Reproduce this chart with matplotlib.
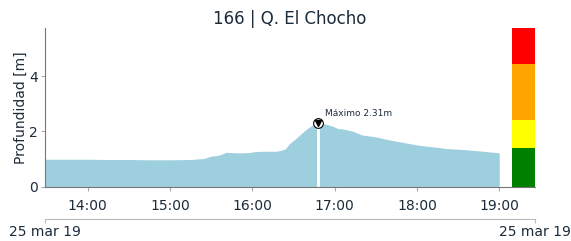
import numpy as np
import pandas as pd
import matplotlib
matplotlib.use('Agg')
import matplotlib.pyplot as plt
import matplotlib.dates as mdates

# level readings (time, depth in m)
times = ['13:29', '13:45', '14:00', '14:15', '14:30', '14:45', '15:00', '15:15',
         '15:25', '15:30', '15:36', '15:41', '15:50', '15:58', '16:02', '16:10',
         '16:17', '16:20', '16:24', '16:27', '16:32', '16:36', '16:40', '16:44',
         '16:48', '16:50', '16:54', '16:58', '17:02', '17:07', '17:13', '17:20',
         '17:30', '17:41', '17:50', '18:01', '18:15', '18:21', '18:37', '18:50',
         '19:00']
depth = [0.99, 0.99, 0.99, 0.98, 0.98, 0.97, 0.97, 0.98,
         1.02, 1.10, 1.14, 1.24, 1.22, 1.23, 1.27, 1.28,
         1.28, 1.30, 1.36, 1.55, 1.75, 1.93, 2.10, 2.23,
         2.31, 2.28, 2.26, 2.20, 2.11, 2.08, 2.01, 1.87,
         1.80, 1.68, 1.60, 1.50, 1.42, 1.38, 1.33, 1.27,
         1.22]

# alert thresholds (m)
levels = [0, 1.41, 2.43, 4.46, 5.75]
level_colors = ['green', 'yellow', 'orange', 'red']

day = '2019-03-25 '
t = pd.to_datetime([day + s for s in times])
imax = int(np.argmax(depth))

fig = plt.figure(figsize=(5.71, 2.41), dpi=100)
ax = fig.add_axes([0.0788, 0.226, 0.858, 0.658])
txt = '#1c2b3a'

ax.fill_between(t, 0, depth, color='#9ecfde', lw=0)
ax.plot([t[imax], t[imax]], [0, depth[imax]], color='white', lw=2)
ax.plot(t[imax], depth[imax], 'o', ms=7, mfc='white', mec='black', mew=0.8)
ax.plot(t[imax], depth[imax], 'v', ms=4, color='black')
ax.annotate('Máximo %.2fm' % depth[imax], (t[imax], depth[imax]),
            xytext=(5, 5), textcoords='offset points', fontsize=6.5, color=txt)

# threshold bar
bx = pd.Timestamp(day + '19:09:30')
bw = pd.Timedelta(minutes=16.5)
for i, c in enumerate(level_colors):
    ax.bar(bx, levels[i + 1] - levels[i], bottom=levels[i], width=bw,
           color=c, align='edge')

ax.set_xlim(pd.Timestamp(day + '13:29'), pd.Timestamp(day + '19:26'))
ax.set_ylim(0, levels[-1])
ax.set_yticks([0, 2, 4])
ax.xaxis.set_major_locator(mdates.HourLocator())
ax.xaxis.set_major_formatter(mdates.DateFormatter('%H:%M'))
ax.set_ylabel('Profundidad [m]', fontsize=10, color=txt, labelpad=1)
ax.set_title('166 | Q. El Chocho', fontsize=12, color=txt, pad=3)
for s in ['top', 'right']:
    ax.spines[s].set_visible(False)
for s in ['left', 'bottom']:
    ax.spines[s].set_color('#777777')
    ax.spines[s].set_linewidth(0.8)
ax.tick_params(colors='#aaaaaa', labelcolor=txt, labelsize=10, length=3)
ax.tick_params(axis='x', pad=6)
ax.tick_params(axis='y', pad=2)

# date axis below
ax2 = fig.add_axes([0.0788, 0.09, 0.858, 0.01])
ax2.set_xlim(0, 1)
ax2.set_yticks([])
for s in ['top', 'right', 'left']:
    ax2.spines[s].set_visible(False)
ax2.spines['bottom'].set_color('#bbbbbb')
ax2.set_xticks([0, 1])
ax2.set_xticklabels(['25 mar 19', '25 mar 19'])
ax2.tick_params(colors='#bbbbbb', labelcolor=txt, labelsize=10, length=3, pad=1)
ax2.patch.set_visible(False)

fig.savefig('out.png', dpi=100)
